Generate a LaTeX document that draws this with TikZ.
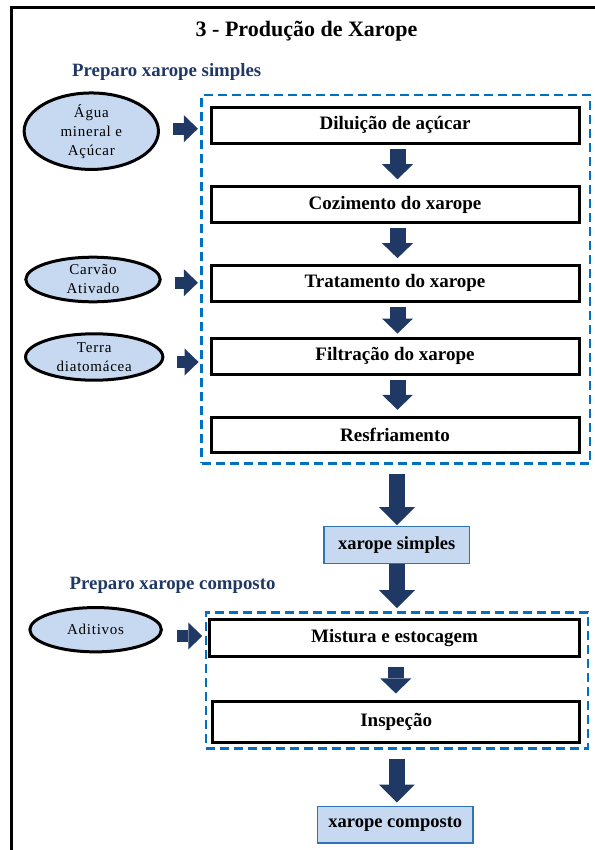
\documentclass[tikz,border=0pt]{standalone}
\usepackage{fontspec}
\setmainfont{Liberation Serif}
\newfontfamily\inputfont{Liberation Serif}[LetterSpace=5]
\usetikzlibrary{arrows.meta,shapes.geometric}

\definecolor{navy}{HTML}{1F3864}
\definecolor{lightfill}{HTML}{C6D9F1}
\definecolor{dashblue}{HTML}{0070C0}
\definecolor{outblue}{HTML}{2E75B6}

\begin{document}
\begin{tikzpicture}[x=1pt,y=-1pt,
  stepbox/.style={draw=black, line width=3pt, minimum width=368pt, minimum height=35.5pt,
    inner sep=0pt, font=\fontsize{19}{22}\selectfont\bfseries},
  inputnode/.style={ellipse, draw=black, line width=3pt, fill=lightfill, inner sep=0pt,
    align=center, font=\inputfont\fontsize{15}{19}\selectfont},
  product/.style={draw=outblue, line width=1.3pt, fill=lightfill, inner sep=0pt,
    font=\fontsize{18.5}{22}\selectfont\bfseries},
  group/.style={draw=dashblue, line width=2.5pt, dash pattern=on 9pt off 5pt, inner sep=0pt},
  heading/.style={anchor=base west, text=navy, inner sep=0pt,
    font=\fontsize{18.8}{22}\selectfont\bfseries},
  flow/.style={draw=navy, line width=16pt,
    -{Triangle[width=31pt,length=15pt,line width=0pt]}},
  bigflow/.style={draw=navy, line width=16pt,
    -{Triangle[width=36pt,length=18pt,line width=0pt]}},
  feed/.style={draw=navy, line width=12pt,
    -{Triangle[width=27pt,length=14pt,line width=0pt]}},
]
\useasboundingbox (0,0) rectangle (594,850);

% outer frame (runs past the page on the right and at the bottom)
\draw[line width=3pt] (11,880) -- (11,8) -- (620,8);

% title and section headings
\node[anchor=base, inner sep=0pt, font=\fontsize{22}{26}\selectfont\bfseries] (title)
  at (306.5,37) {3 - Produção de Xarope};
\node[heading] (head1) at (72,77) {Preparo xarope simples};
\node[heading] (head2) at (69.5,589) {Preparo xarope composto};

% dashed groups
\node[group, minimum width=388.3pt, minimum height=368.3pt] (g1) at (395.8,279.2) {};
\node[group, minimum width=382pt, minimum height=136pt] (g2) at (396.8,680.3) {};

% simple syrup steps
\node[stepbox, fill=white] (dil) at (395,125.3) {Diluição de açúcar};
\node[stepbox, fill=white] (coz) at (395,204.5) {Cozimento do xarope};
\node[stepbox, fill=white] (tra) at (395,283.4) {Tratamento do xarope};
\node[stepbox, fill=white] (fil) at (395,356.3) {Filtração do xarope};
\node[stepbox, fill=white] (res) at (395,435) {Resfriamento};

% compound syrup steps
\node[stepbox, fill=white, minimum width=370pt, minimum height=37pt] (mis) at (394.5,637.5) {Mistura e estocagem};
\node[stepbox, fill=white, minimum width=366.6pt, minimum height=41.5pt] (ins) at (396.2,722.2) {Inspeção};

% products
\node[product, minimum width=145.4pt, minimum height=37pt] (simples) at (396.7,545.2) {xarope simples};
\node[product, minimum width=155.3pt, minimum height=36.7pt] (composto) at (395.3,824.5) {xarope composto};

% inputs
\node[inputnode, minimum width=134.3pt, minimum height=71.3pt] (agua) at (91.3,131.2)
  {Água\\mineral e\\Açúcar};
\node[inputnode, minimum width=134.4pt, minimum height=44.6pt] (carvao) at (93,279.5)
  {Carvão\\Ativado};
\node[inputnode, minimum width=137.3pt, minimum height=46.4pt] (terra) at (94.2,357)
  {Terra\\diatomácea};
\node[inputnode, minimum width=131.5pt, minimum height=44.3pt] (aditivos) at (95.6,629.7)
  {Aditivos};

% flow between steps
\draw[flow, shorten <=4.5pt, shorten >=6pt] ([xshift=2.5pt]dil.south) -- ([xshift=2.5pt]coz.north);
\draw[flow, shorten <=4.5pt, shorten >=6pt] ([xshift=2.5pt]coz.south) -- ([xshift=2.5pt]tra.north);
\draw[flow, shorten <=4pt, shorten >=3.5pt] ([xshift=2.5pt]tra.south) -- ([xshift=2.5pt]fil.north);
\draw[flow, shorten <=4.5pt, shorten >=6pt] ([xshift=2.5pt]fil.south) -- ([xshift=2.5pt]res.north);
\draw[flow, shorten <=9pt, shorten >=6.5pt] ([xshift=1.3pt]mis.south) -- ([xshift=1.3pt]mis.south |- ins.north);

\draw[bigflow, shorten <=9pt, shorten >=1pt] ([xshift=1.2pt]g1.south) -- ([xshift=0.3pt]simples.north);
\draw[bigflow, shorten >=3pt] ([xshift=0.3pt]simples.south) -- ([xshift=0.3pt]simples.south |- g2.north);
\draw[bigflow, shorten <=9pt, shorten >=3pt] (g2.south) -- ([xshift=1.5pt]composto.north);

% inputs feeding the steps
\coordinate (aguaout) at ([xshift=13pt,yshift=2.5pt]agua.east);
\coordinate (carvaoout) at ([xshift=13pt,yshift=-3.2pt]carvao.east);
\coordinate (terraout) at ([xshift=12.5pt,yshift=-5pt]terra.east);
\coordinate (aditivosout) at ([xshift=14.5pt,yshift=-6.3pt]aditivos.east);
\draw[feed, shorten >=2.5pt] (aguaout) -- (aguaout -| g1.west);
\draw[feed, shorten >=2.5pt] (carvaoout) -- (carvaoout -| g1.west);
\draw[feed, shorten >=1.8pt] (terraout) -- (terraout -| g1.west);
\draw[feed, shorten >=2.3pt] (aditivosout) -- (aditivosout -| g2.west);
\end{tikzpicture}
\end{document}
